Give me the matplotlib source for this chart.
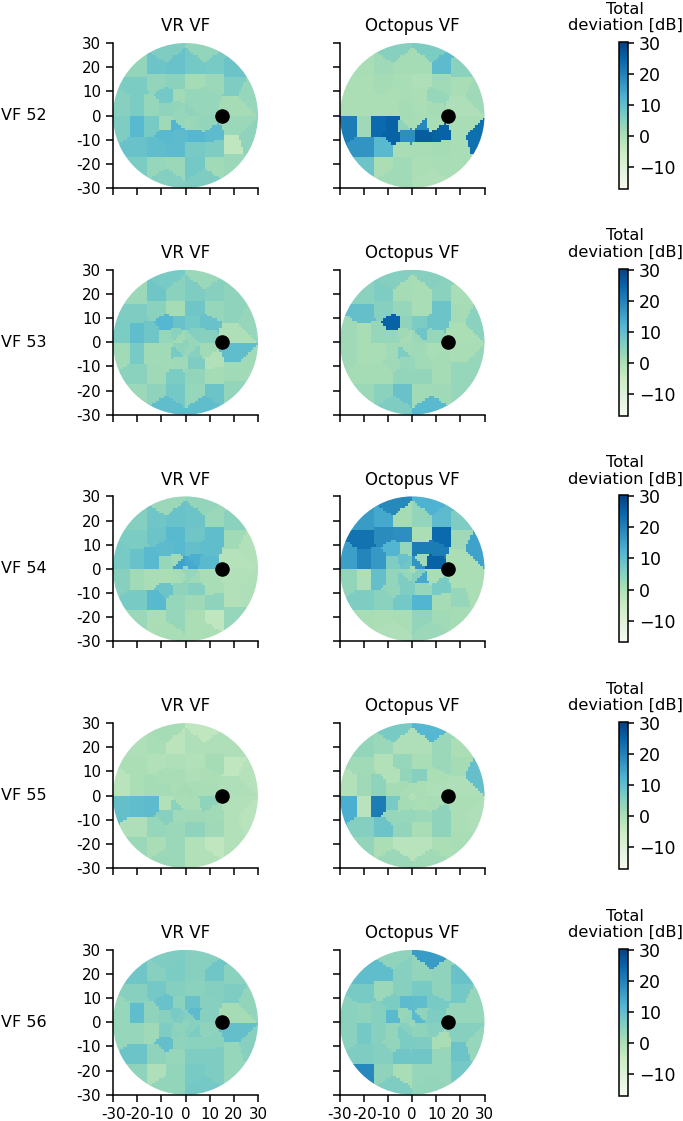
import numpy as np
import matplotlib
matplotlib.use('Agg')
import matplotlib.pyplot as plt
from matplotlib.patches import Circle

W, H = 683, 1121

site_x = [-8, 8,
          -20, -12, -4, 4, 12, 20,
          -20, -12, -4, 4, 12, 20,
          -8, -3, 3, 9, 26,
          -26, -20, -14, -8, -4, 4, 8, 20,
          -2, 2, 0, -2, 2,
          -26, -20, -14, -8, -4, 4, 8, 20,
          -8, -3, 4, 11, 26,
          -20, -12, -4, 4, 12, 20,
          -20, -12, -4, 4, 12, 20,
          -8, 8]
site_y = [26, 26,
          20, 20, 21, 21, 21, 20,
          13, 14, 14, 14, 14, 13,
          8, 8, 8, 8, 10,
          4, 4, 4, 3, 4, 4, 3, 4,
          2, 2, 0, -2, -2,
          -4, -4, -4, -3, -4, -4, -3, -4,
          -8, -8, -8, -8, -10,
          -13, -13, -14, -14, -13, -12,
          -20, -20, -20, -20, -20, -20,
          -26, -26]

vr_52 = [6, 3.5,
         3.5, 8.5, 9, 7.5, 7, 8.5,
         6.5, 3.5, 4.5, 1, 2.5, 6,
         7.5, 1.5, 3, 3, 3,
         5, 6.5, 3, 4, 3.5, 3, 3, 1,
         3, 4, 3, 3, 2.5,
         6, 11, 7, 2, 12, 3, 3.5, 2.5,
         11, 10.5, 11.5, 10.5, 4,
         9, 10, 10.5, 7, 6, -3,
         6.5, 3, 2.5, 7.5, 1.5, 2.5,
         5.5, 6]
oct_52 = [5, 6.5,
          0.5, 2, 1, 1, 10.5, 4.5,
          0, 1, 0.5, -0.5, 1.5, 0.5,
          0, 0.5, 0, 3, 2,
          0, 0, 0, 0, 1, 0, 1, -0.5,
          1, 0.5, 1, 1, 0.5,
          21, 2, 24, 25, 4, 19, 0.5, 0.5,
          25, 18, 26, 25, 23,
          17, 11, 0.5, 0.5, 1, 0.5,
          8.5, 0, 1.5, 0, 0.5, 0.5,
          1.5, -0.5]
vr_53 = [7, 2.5,
         2.5, 8, 4.5, 6, 5, 4,
         6, 4.5, 1, 8, 3, 4,
         11.5, 9, 7.5, 9, 3,
         6.5, 10, 8, 3, 4.5, 5.5, 5, -0.5,
         1.5, 3, 4, 4, 3,
         1.5, 7, 1.5, 1.5, 7, 5, 1.5, 10,
         1.5, 2, 6, -1, 1.5,
         4.5, 2, 6.5, 3.5, 1, 1.5,
         2.5, 4, 7.5, 3, 8.5, 3.5,
         10, 10]
oct_53 = [5.5, 5,
          4.5, 6, 1, 0.5, 4.5, 0.5,
          9.5, 5, 3, 0.5, 8.5, 1,
          25, 4, 6.5, 8.5, 4.5,
          2, 0.5, 3, 3, 2, 8, 3, 0,
          1, 2.5, 1.5, 1.5, 2,
          2, 0.5, 0.5, 1.5, 6, 1.5, 0.5, 0.5,
          2, 3, 1.5, 1, 3,
          1, 1, 3.5, 3.5, 1, 3,
          2.5, 4.5, 9, 1.5, 2, 3,
          6, 11]
vr_54 = [2.5, 3.5,
         5.5, 8, 9, 8.5, 2.5, 4.5,
         6.5, 8.5, 11, 8, 10, 1.5,
         10.5, 11, 9.5, 10, -1,
         7, 9, 11, 3, 1.5, 13, 11, -1.5,
         15, 14, 3, 1, 3,
         5, 1.5, 0.5, 0, 0.5, 2, 0.5, -1,
         8.5, 4, 5.5, 0.5, -0.5,
         7, 11, 3, 2, 4, -1,
         2.5, 0, 3, 0, -3, 3,
         0.5, 0]
oct_54 = [19, 12.5,
          16, 14, 1, 3.5, 10.5, 6,
          22.5, 18.5, 18, 0, 24, 2,
          12, 3, 21, 21, 15,
          15.5, 19.5, 16.5, 6, 9, 2, 25, 0,
          8, 17, 1, 3, 5,
          3.5, -0.5, 9.5, 3.5, 6, 14, 0.5, 0,
          3.5, 6, 3, 7, 0,
          6, 4.5, 7.5, 12, 1, 3,
          0.5, 0, 0.5, 3.5, 1.5, 1,
          -0.5, 2.5]
vr_55 = [1, -3,
         -0.5, 0.5, -2.5, -0.5, -0.5, -0.5,
         0, -1, -0.5, -1, 1, -3,
         0.5, 0.5, -0.5, 0, -1.5,
         -2, 0, 1, 1, 0, 0.5, 0.5, -0.5,
         1, 1, 0.5, 0.5, 0.5,
         9.5, 10, 10.5, -1, 4.5, 0.5, 4, -1,
         5, 2, 2, 1.5, -2,
         -0.5, 3, 2.5, 4, 2, -1,
         2.5, 0.5, 2.5, -1, -3, -1,
         2.5, -1]
oct_55 = [7, 11.5,
          3.5, 2.5, -0.5, -0.5, 2.5, 0,
          1.5, -1, 3, 0.5, 2.5, 1,
          -1, 3.5, 5, 0, 9.5,
          -1, 2, 4, 1, 1, 0, -0.5, -0.5,
          0.5, 0.5, -1, 1, 0.5,
          13, -2, 21, 7, 1, 0, 0.5, 0,
          3, 3, 2.5, 4, -0.5,
          5.5, 8.5, 3.5, 0.5, 4, 0,
          3.5, 0, -2, -2, 0, 0.5,
          2.5, 1.5]
vr_56 = [6, 5,
         8, 5, 6.5, 5, 8, 4.5,
         5, 7.5, 5.5, 4.5, 5.5, 6,
         9, 4.5, 9, 5, 3.5,
         3, 10, 4, 5, 7, 10.5, 5, 1,
         6, 5, 4, 4, 5,
         3, 3, 2, 6, 4.5, 6.5, 4, 9.5,
         9.5, 4, 4.5, 4.5, 5,
         8.5, 4, 3, 6, 6, 3,
         4, -0.5, 3.5, 7, 6, 3,
         3.5, 7.5]
oct_56 = [4, 16,
          10, 10, 5, 3.5, 4, 9,
          7, 2.5, 5, 7, 4, 7.5,
          6.5, 10.5, 10, 7, 3,
          4.5, 4, 5, 11, 3, 4, 6, 3,
          3.5, 11, 3, 5, 4,
          4.5, 7.5, 5, 3.5, 6.5, 4, 5, 5,
          3.5, 6.5, 6, 0.5, 3,
          6, 5.5, 8, 8, 3, 8.5,
          19, 4, 0.5, 3, 3, 7.5,
          6, 3.5]

row_labels = ['VF 52', 'VF 53', 'VF 54', 'VF 55', 'VF 56']
column_titles = ['VR VF', 'Octopus VF']
vr_rows = [vr_52, vr_53, vr_54, vr_55, vr_56]
oct_rows = [oct_52, oct_53, oct_54, oct_55, oct_56]
tick_values = [-30, -20, -10, 0, 10, 20, 30]
tick_labels = ['-30', '-20', '-10', '0', '10', '20', '30']
cbar_ticks = [-10, 0, 10, 20, 30]
blind_spot = (15, 0)

VMIN, VMAX = -17, 30.3
FIELD_RADIUS = 30

plt.rcParams['font.family'] = 'DejaVu Sans'
plt.rcParams['axes.linewidth'] = 1.1
fig = plt.figure(figsize=(W / 100, H / 100), dpi=100)


def px_axes(x0, y0, x1, y1):
    return fig.add_axes([x0 / W, 1 - y1 / H, (x1 - x0) / W, (y1 - y0) / H])


edges = np.arange(-30, 31, 1.0)
centres = edges[:-1] + 0.5
gx, gy = np.meshgrid(centres, centres)
sx = np.array(site_x, float)[:, None, None]
sy = np.array(site_y, float)[:, None, None]
nearest = np.argmin((gx - sx) ** 2 + (gy - sy) ** 2, axis=0)


def draw_field(ax, values, show_y, show_x):
    field = np.asarray(values, float)[nearest]
    im = ax.imshow(field, origin='lower', extent=(-30, 30, -30, 30), cmap='GnBu',
                   vmin=VMIN, vmax=VMAX, interpolation='nearest', aspect='auto')
    im.set_clip_path(Circle((0, 0), FIELD_RADIUS, transform=ax.transData))
    ax.scatter([blind_spot[0]], [blind_spot[1]], s=110, c='k', zorder=3, linewidths=0)
    ax.set_xlim(-30, 30)
    ax.set_ylim(-30, 30)
    ax.set_xticks(tick_values)
    ax.set_yticks(tick_values)
    ax.set_xticklabels(tick_labels if show_x else [])
    ax.set_yticklabels(tick_labels if show_y else [])
    ax.tick_params(labelsize=10.8, length=5, width=1.1, pad=3.5)
    for s in ('top', 'right'):
        ax.spines[s].set_visible(False)
    return im


row_step = 226.7
for i in range(5):
    top = 43 + i * row_step
    bottom = top + 145
    last = i == 4
    ax1 = px_axes(113, top, 258, bottom)
    im = draw_field(ax1, vr_rows[i], True, last)
    ax1.set_title(column_titles[0], fontsize=12, pad=8.5)
    ax2 = px_axes(340, top, 484.5, bottom)
    draw_field(ax2, oct_rows[i], False, last)
    ax2.set_title(column_titles[1], fontsize=12, pad=8.5)
    fig.text(1 / W, 1 - (top + 72.5) / H, row_labels[i], fontsize=11.5, ha='left', va='center')

    cax = px_axes(619, top - 1, 628, top + 146)
    cb = fig.colorbar(im, cax=cax)
    cb.set_ticks(cbar_ticks)
    cb.ax.tick_params(labelsize=12.5, length=4.5, width=1.1, pad=3.5)
    cb.outline.set_linewidth(1.1)
    fig.text(625 / W, 1 - (top - 10) / H, 'Total\ndeviation [dB]', fontsize=11.7,
             ha='center', va='bottom', linespacing=1.1)

fig.savefig('out.png', dpi=100)
